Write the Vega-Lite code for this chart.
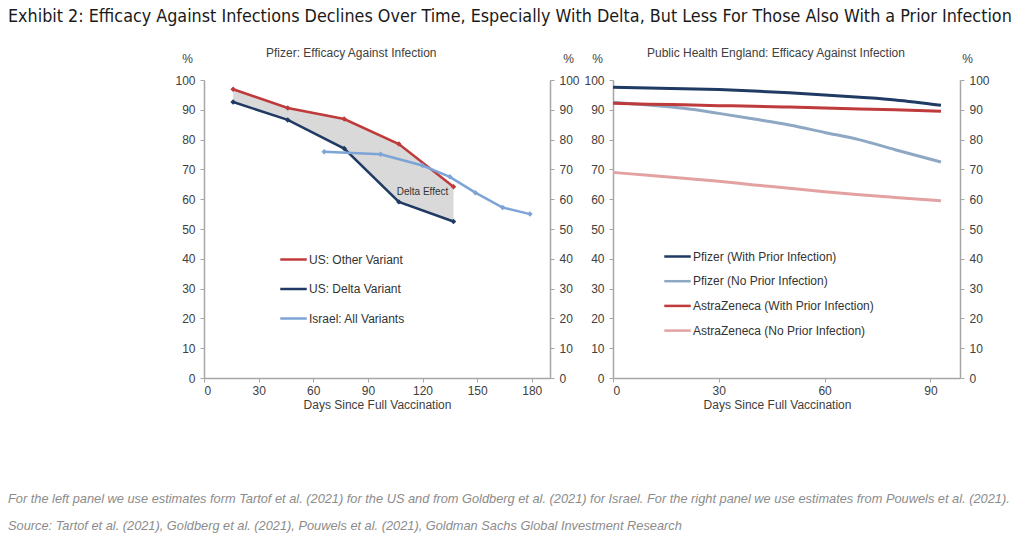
{
  "$schema": "https://vega.github.io/schema/vega-lite/v6.json",
  "padding": {"left": 8, "top": 8, "right": 5, "bottom": 0},
  "background": "white",
  "title": {"text": "Exhibit 2: Efficacy Against Infections Declines Over Time, Especially With Delta, But Less For Those Also With a Prior Infection", "anchor": "start", "frame": "group", "dx": -196, "offset": 21, "font": "DejaVu Sans Condensed", "fontSize": 17.8, "fontWeight": "normal", "color": "#1a1a1a"},
  "config": {
    "view": {"stroke": null},
    "font": "Liberation Sans",
    "axis": {"grid": false, "domainColor": "#a6a6a6", "domainWidth": 1.5, "tickColor": "#a6a6a6", "tickSize": 4, "labelFontSize": 12, "labelColor": "#404040", "labelFont": "Liberation Sans", "titleFont": "Liberation Sans", "titleFontSize": 12, "titleFontWeight": "normal", "titleColor": "#404040", "labelPadding": 5},
    "axisX": {"labelPadding": 3, "titlePadding": 3},
    "legend": {"labelFont": "Liberation Sans", "labelFontSize": 12, "labelColor": "#333333", "symbolType": "stroke", "symbolStrokeWidth": 2.5, "symbolSize": 700, "labelOffset": 1, "labelLimit": 300},
    "title": {"font": "Liberation Sans", "fontSize": 12, "fontWeight": "normal", "color": "#404040"}
  },
  "resolve": {"scale": {"color": "independent"}, "legend": {"color": "independent"}},
  "datasets": {
    "left": [
      {"series": "US: Other Variant", "day": 16, "value": 96.9},
      {"series": "US: Other Variant", "day": 46, "value": 90.6},
      {"series": "US: Other Variant", "day": 77, "value": 86.9},
      {"series": "US: Other Variant", "day": 107, "value": 78.5},
      {"series": "US: Other Variant", "day": 137, "value": 64.2},
      {"series": "US: Delta Variant", "day": 16, "value": 92.6},
      {"series": "US: Delta Variant", "day": 46, "value": 86.6},
      {"series": "US: Delta Variant", "day": 77, "value": 77.0},
      {"series": "US: Delta Variant", "day": 107, "value": 59.1},
      {"series": "US: Delta Variant", "day": 137, "value": 52.5},
      {"series": "Israel: All Variants", "day": 66, "value": 75.9},
      {"series": "Israel: All Variants", "day": 97, "value": 75.1},
      {"series": "Israel: All Variants", "day": 120, "value": 71.3},
      {"series": "Israel: All Variants", "day": 135, "value": 67.5},
      {"series": "Israel: All Variants", "day": 149, "value": 62.2},
      {"series": "Israel: All Variants", "day": 164, "value": 57.2},
      {"series": "Israel: All Variants", "day": 179, "value": 55.0}
    ],
    "annot": [{"day": 120, "value": 62.3, "label": "Delta Effect"}],
    "right": [
      {"series": "Pfizer (With Prior Infection)", "day": 0, "value": 97.6},
      {"series": "Pfizer (With Prior Infection)", "day": 10, "value": 97.3},
      {"series": "Pfizer (With Prior Infection)", "day": 20, "value": 97.1},
      {"series": "Pfizer (With Prior Infection)", "day": 30, "value": 96.8},
      {"series": "Pfizer (With Prior Infection)", "day": 40, "value": 96.3},
      {"series": "Pfizer (With Prior Infection)", "day": 50, "value": 95.7},
      {"series": "Pfizer (With Prior Infection)", "day": 60, "value": 95.0},
      {"series": "Pfizer (With Prior Infection)", "day": 70, "value": 94.2},
      {"series": "Pfizer (With Prior Infection)", "day": 80, "value": 93.3},
      {"series": "Pfizer (With Prior Infection)", "day": 93, "value": 91.5},
      {"series": "Pfizer (No Prior Infection)", "day": 0, "value": 92.5},
      {"series": "Pfizer (No Prior Infection)", "day": 10, "value": 91.6},
      {"series": "Pfizer (No Prior Infection)", "day": 20, "value": 90.5},
      {"series": "Pfizer (No Prior Infection)", "day": 30, "value": 88.8},
      {"series": "Pfizer (No Prior Infection)", "day": 40, "value": 86.9},
      {"series": "Pfizer (No Prior Infection)", "day": 50, "value": 84.9},
      {"series": "Pfizer (No Prior Infection)", "day": 60, "value": 82.4},
      {"series": "Pfizer (No Prior Infection)", "day": 70, "value": 79.9},
      {"series": "Pfizer (No Prior Infection)", "day": 80, "value": 76.6},
      {"series": "Pfizer (No Prior Infection)", "day": 93, "value": 72.5},
      {"series": "AstraZeneca (With Prior Infection)", "day": 0, "value": 92.2},
      {"series": "AstraZeneca (With Prior Infection)", "day": 10, "value": 91.9},
      {"series": "AstraZeneca (With Prior Infection)", "day": 20, "value": 91.7},
      {"series": "AstraZeneca (With Prior Infection)", "day": 30, "value": 91.4},
      {"series": "AstraZeneca (With Prior Infection)", "day": 40, "value": 91.2},
      {"series": "AstraZeneca (With Prior Infection)", "day": 50, "value": 90.9},
      {"series": "AstraZeneca (With Prior Infection)", "day": 60, "value": 90.6},
      {"series": "AstraZeneca (With Prior Infection)", "day": 70, "value": 90.3},
      {"series": "AstraZeneca (With Prior Infection)", "day": 80, "value": 90.0},
      {"series": "AstraZeneca (With Prior Infection)", "day": 93, "value": 89.5},
      {"series": "AstraZeneca (No Prior Infection)", "day": 0, "value": 69.0},
      {"series": "AstraZeneca (No Prior Infection)", "day": 10, "value": 68.0},
      {"series": "AstraZeneca (No Prior Infection)", "day": 20, "value": 67.0},
      {"series": "AstraZeneca (No Prior Infection)", "day": 30, "value": 66.0},
      {"series": "AstraZeneca (No Prior Infection)", "day": 40, "value": 64.8},
      {"series": "AstraZeneca (No Prior Infection)", "day": 50, "value": 63.7},
      {"series": "AstraZeneca (No Prior Infection)", "day": 60, "value": 62.5},
      {"series": "AstraZeneca (No Prior Infection)", "day": 70, "value": 61.5},
      {"series": "AstraZeneca (No Prior Infection)", "day": 80, "value": 60.6},
      {"series": "AstraZeneca (No Prior Infection)", "day": 93, "value": 59.5}
    ],
    "notes": [
      {"line": 1, "text": "For the left panel we use estimates form Tartof et al. (2021) for the US and from Goldberg et al. (2021) for Israel. For the right panel we use estimates from Pouwels et al. (2021)."},
      {"line": 2, "text": "Source: Tartof et al. (2021), Goldberg et al. (2021), Pouwels et al. (2021), Goldman Sachs Global Investment Research"}
    ]
  },
  "columns": 2,
  "bounds": "flush",
  "spacing": {"row": 107, "column": 63},
  "concat": [
    {
      "width": 346,
      "height": 298,
      "title": {"text": "Pfizer: Efficacy Against Infection", "anchor": "start", "frame": "group", "dx": 62, "offset": -8},
      "resolve": {"axis": {"y": "independent"}},
      "layer": [
        {
          "data": {"name": "left"},
          "transform": [
            {"filter": "datum.series !== 'Israel: All Variants'"},
            {"pivot": "series", "value": "value", "groupby": ["day"]}
          ],
          "mark": {"type": "area", "color": "#d9d9d9", "opacity": 1},
          "encoding": {
            "x": {"field": "day", "type": "quantitative", "scale": {"domain": [0, 190], "nice": false}, "axis": {"values": [0, 30, 60, 90, 120, 150, 180], "title": "Days Since Full Vaccination"}},
            "y": {"field": "US: Delta Variant", "type": "quantitative", "scale": {"domain": [0, 100], "nice": false}, "axis": {"orient": "left", "values": [0, 10, 20, 30, 40, 50, 60, 70, 80, 90, 100], "title": "%", "titleAngle": 0, "titleX": -17, "titleY": -22, "titleAlign": "center", "titleBaseline": "middle"}},
            "y2": {"field": "US: Other Variant"}
          }
        },
        {
          "data": {"name": "left"},
          "mark": {"type": "line", "strokeWidth": 2.5, "point": {"shape": "diamond", "size": 30, "filled": true}},
          "encoding": {
            "x": {"field": "day", "type": "quantitative"},
            "y": {"field": "value", "type": "quantitative", "axis": {"orient": "right", "values": [0, 10, 20, 30, 40, 50, 60, 70, 80, 90, 100], "title": "%", "titleAngle": 0, "titleX": 18, "titleY": -22, "titleAlign": "center", "titleBaseline": "middle"}},
            "color": {"field": "series", "type": "nominal", "scale": {"domain": ["US: Other Variant", "US: Delta Variant", "Israel: All Variants"], "range": ["#bf3a3a", "#1f3a63", "#7da4d6"]}, "legend": {"title": null, "orient": "none", "legendX": 75, "legendY": 165, "rowPadding": 8.5}},
            "order": {"field": "day", "type": "quantitative"}
          }
        },
        {
          "data": {"name": "annot"},
          "mark": {"type": "text", "fontSize": 10, "color": "#333333"},
          "encoding": {
            "x": {"field": "day", "type": "quantitative"},
            "y": {"field": "value", "type": "quantitative", "axis": null},
            "text": {"field": "label"}
          }
        }
      ]
    },
    {
      "width": 347,
      "height": 298,
      "title": {"text": "Public Health England:  Efficacy Against Infection", "anchor": "start", "frame": "group", "dx": 34, "offset": -8},
      "resolve": {"axis": {"y": "independent"}},
      "data": {"name": "right"},
      "layer": [
        {
          "mark": {"type": "line", "strokeWidth": 3, "interpolate": "monotone"},
          "encoding": {
            "x": {"field": "day", "type": "quantitative", "scale": {"domain": [0, 98.4], "nice": false}, "axis": {"values": [0, 30, 60, 90], "title": "Days Since Full Vaccination", "titleX": 164}},
            "y": {"field": "value", "type": "quantitative", "scale": {"domain": [0, 100], "nice": false}, "axis": {"orient": "left", "values": [0, 10, 20, 30, 40, 50, 60, 70, 80, 90, 100], "title": "%", "titleAngle": 0, "titleX": -16, "titleY": -22, "titleAlign": "center", "titleBaseline": "middle"}},
            "color": {"field": "series", "type": "nominal", "scale": {"domain": ["Pfizer (With Prior Infection)", "Pfizer (No Prior Infection)", "AstraZeneca (With Prior Infection)", "AstraZeneca (No Prior Infection)"], "range": ["#1f3a63", "#8ea8c3", "#bf3a3a", "#e3a1a1"]}, "legend": {"title": null, "orient": "none", "legendX": 50, "legendY": 162, "rowPadding": 3.7}}
          }
        },
        {
          "mark": {"type": "line", "opacity": 0},
          "encoding": {
            "x": {"field": "day", "type": "quantitative"},
            "y": {"field": "value", "type": "quantitative", "axis": {"orient": "right", "values": [0, 10, 20, 30, 40, 50, 60, 70, 80, 90, 100], "title": "%", "titleAngle": 0, "titleX": 7, "titleY": -22, "titleAlign": "center", "titleBaseline": "middle"}},
            "detail": {"field": "series"}
          }
        }
      ]
    },
    {
      "width": 346,
      "height": 54,
      "data": {"name": "notes"},
      "mark": {"type": "text", "align": "left", "baseline": "middle", "font": "Liberation Sans", "fontStyle": "italic", "fontSize": 12.8, "color": "#8c8c8c"},
      "encoding": {
        "x": {"value": -196},
        "y": {"field": "line", "type": "ordinal", "axis": null},
        "text": {"field": "text"}
      }
    }
  ]
}
